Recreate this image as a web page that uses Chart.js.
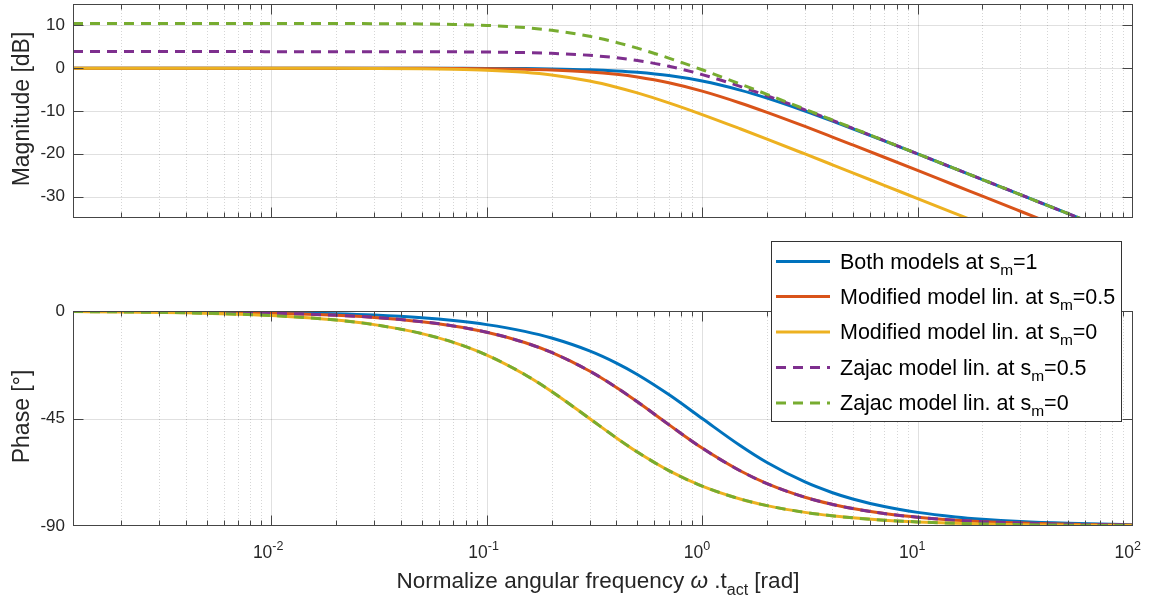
<!DOCTYPE html>
<html><head><meta charset="utf-8">
<script src="https://cdn.jsdelivr.net/npm/chart.js@4.4.1/dist/chart.umd.min.js"></script>
<style>
html,body{margin:0;padding:0;background:#fff;}
#wrap{position:relative;width:1156px;height:601px;background:#fff;}
canvas{position:absolute;left:0;top:0;}
</style></head><body>
<div id="wrap"><canvas id="mag" width="1156" height="601"></canvas><canvas id="phase" width="1156" height="601"></canvas></div>
<script>
// ---------- data ----------
const FREQ = [0.0012, 0.002, 0.004, 0.007, 0.01, 0.02, 0.03, 0.05, 0.07, 0.1, 0.15, 0.2, 0.3, 0.4, 0.5, 0.7, 1, 1.5, 2, 3, 4, 5, 7, 10, 15, 20, 30, 50, 70, 100];

const MAG_BOTH   = [0, 0, 0, 0, 0, -0.002, -0.004, -0.011, -0.021, -0.043, -0.097, -0.17, -0.374, -0.645, -0.969, -1.73, -3.01, -5.12, -6.99, -10.0, -12.3, -14.15, -16.99, -20.04, -23.54, -26.03, -29.55, -33.98, -36.9, -40.0];
const MAG_MOD_05 = [0, 0, 0, -0.001, -0.001, -0.004, -0.01, -0.026, -0.052, -0.105, -0.232, -0.405, -0.862, -1.432, -2.069, -3.417, -5.367, -8.124, -10.32, -13.61, -16.03, -17.93, -20.81, -23.89, -27.41, -29.9, -33.42, -37.86, -40.78, -43.88];
const MAG_MOD_0  = [0, 0, -0.001, -0.002, -0.005, -0.019, -0.043, -0.119, -0.23, -0.458, -0.969, -1.597, -3.01, -4.437, -5.772, -8.092, -10.83, -14.15, -16.57, -20.04, -22.52, -24.45, -27.37, -30.46, -33.98, -36.48, -40.0, -44.44, -47.36, -50.46];
const MAG_ZAJ_05 = [3.88, 3.88, 3.88, 3.88, 3.87, 3.87, 3.87, 3.85, 3.82, 3.77, 3.64, 3.47, 3.01, 2.44, 1.81, 0.46, -1.49, -4.25, -6.44, -9.73, -12.15, -14.05, -16.93, -20.01, -23.53, -26.02, -29.54, -33.98, -36.9, -40.0];
const MAG_ZAJ_0  = [10.46, 10.46, 10.46, 10.46, 10.45, 10.44, 10.41, 10.34, 10.23, 10.0, 9.49, 8.86, 7.45, 6.02, 4.69, 2.37, -0.37, -3.69, -6.11, -9.58, -12.06, -13.99, -16.91, -20.0, -23.52, -26.02, -29.54, -33.98, -36.9, -40.0];

const PH_BOTH   = [-0.07, -0.11, -0.23, -0.4, -0.57, -1.15, -1.72, -2.86, -4.0, -5.71, -8.53, -11.31, -16.7, -21.8, -26.57, -34.99, -45.0, -56.31, -63.43, -71.57, -75.96, -78.69, -81.87, -84.29, -86.19, -87.14, -88.09, -88.85, -89.18, -89.43];
const PH_MOD_05 = [-0.11, -0.18, -0.36, -0.63, -0.9, -1.79, -2.68, -4.47, -6.24, -8.88, -13.19, -17.35, -25.12, -32.01, -38.0, -47.56, -57.38, -66.89, -72.26, -77.96, -80.91, -82.71, -84.78, -86.34, -87.56, -88.17, -88.78, -89.27, -89.48, -89.63];
const PH_MOD_0  = [-0.23, -0.38, -0.76, -1.34, -1.91, -3.81, -5.71, -9.46, -13.13, -18.43, -26.57, -33.69, -45.0, -53.13, -59.04, -66.8, -73.3, -78.69, -81.47, -84.29, -85.71, -86.57, -87.55, -88.28, -88.85, -89.14, -89.43, -89.66, -89.75, -89.83];
const PH_ZAJ_05 = [-0.11, -0.18, -0.36, -0.63, -0.9, -1.79, -2.68, -4.47, -6.24, -8.88, -13.19, -17.35, -25.12, -32.01, -38.0, -47.56, -57.38, -66.89, -72.26, -77.96, -80.91, -82.71, -84.78, -86.34, -87.56, -88.17, -88.78, -89.27, -89.48, -89.63];
const PH_ZAJ_0  = [-0.23, -0.38, -0.76, -1.34, -1.91, -3.81, -5.71, -9.46, -13.13, -18.43, -26.57, -33.69, -45.0, -53.13, -59.04, -66.8, -73.3, -78.69, -81.47, -84.29, -85.71, -86.57, -87.55, -88.28, -88.85, -89.14, -89.43, -89.66, -89.75, -89.83];

const X_MIN = 0.0012, X_MAX = 100;
const X_TICKS = [0.01, 0.1, 1, 10, 100];
const X_TICK_EXP = ['-2', '-1', '0', '1', '2'];
const MAG_TICKS = [-30, -20, -10, 0, 10];
const PHASE_TICKS = [-90, -45, 0];

const LEGEND_MAIN = ['Both models at s', 'Modified model lin. at s', 'Modified model lin. at s', 'Zajac model lin. at s', 'Zajac model lin. at s'];
const LEGEND_SUB  = ['m', 'm', 'm', 'm', 'm'];
const LEGEND_TAIL = ['=1', '=0.5', '=0', '=0.5', '=0'];

const MAG_TITLE = 'Magnitude [dB]';
const PHASE_TITLE = 'Phase [°]';

// ---------- style ----------
const FONT = "'Liberation Sans', Arial, Helvetica, sans-serif";
const TEXT = '#262626';
const AXIS = '#454545';
const COLORS = ['#0072BD', '#D95319', '#EDB120', '#7E2F8E', '#77AC30'];
const DASHES = [[], [], [], [10, 7], [10, 7]];
const LW = 3;

function minors(min, max) {
  const out = [];
  for (let k = -4; k <= 3; k++) for (let m = 2; m <= 9; m++) {
    const v = m * Math.pow(10, k);
    if (v > min && v < max) out.push(v);
  }
  return out;
}
const MINORS = minors(X_MIN, X_MAX);

function makeDatasets(series) {
  return series.map((d, i) => ({
    label: LEGEND_MAIN[i] + LEGEND_SUB[i] + LEGEND_TAIL[i],
    data: FREQ.map((f, j) => ({x: f, y: d[j]})),
    borderColor: COLORS[i], borderWidth: LW, borderDash: DASHES[i],
    pointRadius: 0, cubicInterpolationMode: 'monotone', fill: false,
    order: 5 - i
  }));
}

function drawRich(ctx, parts, x, y, align) {
  let total = 0;
  parts.forEach(p => { ctx.font = (p.italic ? 'italic ' : '') + p.size + 'px ' + FONT; p.w = ctx.measureText(p.t).width; total += p.w; });
  let cx = align === 'center' ? x - total / 2 : (align === 'right' ? x - total : x);
  parts.forEach(p => { ctx.font = (p.italic ? 'italic ' : '') + p.size + 'px ' + FONT; ctx.fillText(p.t, cx, y + (p.dy || 0)); cx += p.w; });
  return total;
}

const framePlugin = {
  id: 'frame',
  beforeDatasetsDraw(chart) {
    const {ctx, chartArea: a, scales: {x, y}} = chart;
    ctx.save();
    ctx.lineWidth = 1;
    ctx.strokeStyle = 'rgba(0,0,0,0.16)';
    ctx.setLineDash([1, 2]);
    MINORS.forEach(v => {
      const px = Math.round(x.getPixelForValue(v)) + 0.5;
      ctx.beginPath(); ctx.moveTo(px, a.top); ctx.lineTo(px, a.bottom); ctx.stroke();
    });
    ctx.setLineDash([]);
    ctx.strokeStyle = 'rgba(0,0,0,0.12)';
    X_TICKS.forEach(v => {
      const px = Math.round(x.getPixelForValue(v)) + 0.5;
      if (px <= a.left + 1 || px >= a.right - 1) return;
      ctx.beginPath(); ctx.moveTo(px, a.top); ctx.lineTo(px, a.bottom); ctx.stroke();
    });
    y.ticks.forEach(t => {
      const py = Math.round(y.getPixelForValue(t.value)) + 0.5;
      if (py <= a.top + 1 || py >= a.bottom - 1) return;
      ctx.beginPath(); ctx.moveTo(a.left, py); ctx.lineTo(a.right, py); ctx.stroke();
    });
    ctx.restore();
  },
  afterDatasetsDraw(chart) {
    const {ctx, chartArea: a, scales: {x, y}} = chart;
    const L = Math.round(a.left) + 0.5, R = Math.round(a.right) - 0.5;
    const T = Math.round(a.top) + 0.5, B = Math.round(a.bottom) - 0.5;
    ctx.save();
    ctx.lineWidth = 1; ctx.strokeStyle = AXIS; ctx.setLineDash([]);
    ctx.strokeRect(L, T, R - L, B - T);
    ctx.beginPath();
    X_TICKS.forEach(v => {
      const px = Math.round(x.getPixelForValue(v)) + 0.5;
      if (px <= L + 1 || px >= R - 1) return;
      ctx.moveTo(px, B); ctx.lineTo(px, B - 10);
      ctx.moveTo(px, T); ctx.lineTo(px, T + 10);
    });
    MINORS.forEach(v => {
      const px = Math.round(x.getPixelForValue(v)) + 0.5;
      ctx.moveTo(px, B); ctx.lineTo(px, B - 5);
      ctx.moveTo(px, T); ctx.lineTo(px, T + 5);
    });
    y.ticks.forEach(t => {
      const py = Math.round(y.getPixelForValue(t.value)) + 0.5;
      if (py <= T + 1 || py >= B - 1) return;
      ctx.moveTo(L, py); ctx.lineTo(L + 10, py);
      ctx.moveTo(R, py); ctx.lineTo(R - 10, py);
    });
    ctx.stroke();
    ctx.restore();
  },
  afterDraw(chart, args, opts) {
    const {ctx, chartArea: a, scales: {x}} = chart;
    ctx.save();
    ctx.fillStyle = TEXT;
    ctx.textBaseline = 'alphabetic';
    // y title
    ctx.save();
    ctx.translate(29, (a.top + a.bottom) / 2 - 2);
    ctx.rotate(-Math.PI / 2);
    ctx.font = '23px ' + FONT; ctx.textAlign = 'center';
    ctx.fillText(opts.title, 0, 0);
    ctx.restore();
    ctx.textAlign = 'left';
    if (opts.bottom) {
      // x tick labels 10^n
      X_TICKS.forEach((v, i) => {
        const px = x.getPixelForValue(v);
        ctx.font = '17.5px ' + FONT;
        const w = ctx.measureText('10').width;
        ctx.fillText('10', px - w + 1, 558);
        ctx.font = '12.5px ' + FONT;
        ctx.fillText(X_TICK_EXP[i], px + 1, 550);
      });
      // x title
      drawRich(ctx, [
        {t: 'Normalize angular frequency ', size: 22.5},
        {t: 'ω', size: 22.5, italic: true},
        {t: ' .t', size: 22.5},
        {t: 'act', size: 16, dy: 7},
        {t: ' [rad]', size: 22.5}
      ], (a.left + a.right) / 2 - 5, 588, 'center');
      // legend
      const LX = 771.5, LY = 241.5, LW2 = 350, LH = 180;
      ctx.fillStyle = '#fff';
      ctx.fillRect(LX, LY, LW2, LH);
      ctx.strokeStyle = '#333'; ctx.lineWidth = 1;
      ctx.strokeRect(LX, LY, LW2, LH);
      const rows = [261.5, 296.5, 332, 367.5, 403];
      chart.data.datasets.forEach((ds, i) => {
        const ry = rows[i];
        ctx.save();
        ctx.strokeStyle = COLORS[i]; ctx.lineWidth = LW; ctx.setLineDash(DASHES[i]);
        ctx.beginPath(); ctx.moveTo(776, ry); ctx.lineTo(830, ry); ctx.stroke();
        ctx.restore();
        ctx.fillStyle = '#000';
        drawRich(ctx, [
          {t: LEGEND_MAIN[i], size: 21.5},
          {t: LEGEND_SUB[i], size: 15.5, dy: 6},
          {t: LEGEND_TAIL[i], size: 21.5}
        ], 840, ry + 7, 'left');
      });
    }
    ctx.restore();
  }
};

function yAxis(min, max, ticks) {
  return {
    type: 'linear', min, max,
    grid: {display: false, drawTicks: false},
    border: {display: false},
    ticks: {font: {family: FONT, size: 17}, color: TEXT, padding: 8},
    afterBuildTicks: s => { s.ticks = ticks.map(v => ({value: v})); },
    afterFit: s => { s.width = 73; s.paddingTop = 0; s.paddingBottom = 0; }
  };
}

function makeChart(id, series, yMin, yMax, ticks, pad, title, bottom) {
  return new Chart(document.getElementById(id), {
    type: 'line',
    data: {datasets: makeDatasets(series)},
    options: {
      responsive: false, animation: false, devicePixelRatio: 1, events: [],
      layout: {padding: pad},
      plugins: {legend: {display: false}, tooltip: {enabled: false}, frame: {title, bottom}},
      scales: {
        x: {type: 'logarithmic', min: X_MIN, max: X_MAX, display: false},
        y: yAxis(yMin, yMax, ticks)
      }
    },
    plugins: [framePlugin]
  });
}

makeChart('mag', [MAG_BOTH, MAG_MOD_05, MAG_MOD_0, MAG_ZAJ_05, MAG_ZAJ_0], -35, 15, MAG_TICKS,
  {left: 0, top: 4, right: 23, bottom: 383}, MAG_TITLE, false);
makeChart('phase', [PH_BOTH, PH_MOD_05, PH_MOD_0, PH_ZAJ_05, PH_ZAJ_0], -90, 0, PHASE_TICKS,
  {left: 0, top: 311, right: 23, bottom: 75}, PHASE_TITLE, true);
</script>
</body></html>
